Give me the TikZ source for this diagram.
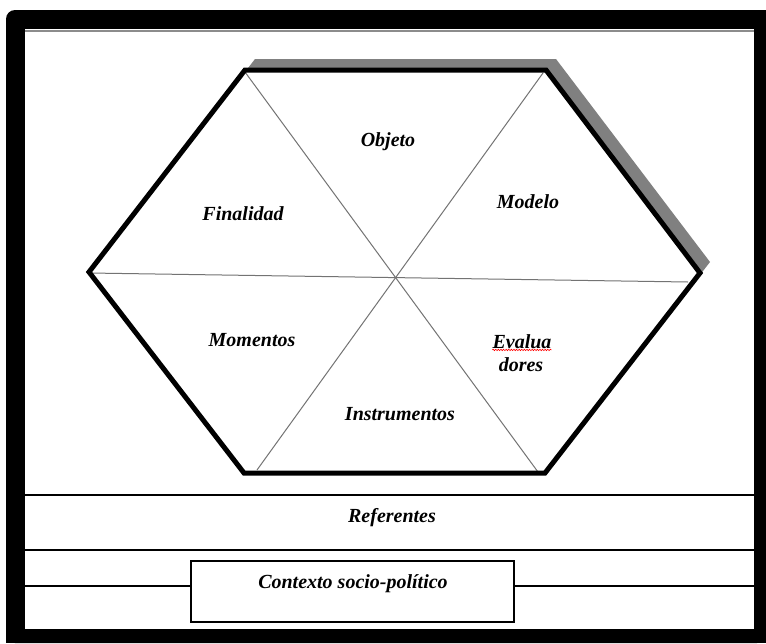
\documentclass[tikz,border=0pt]{standalone}
\usepackage{fontspec}
\setmainfont{Liberation Serif}
\usetikzlibrary{calc,decorations.pathmorphing}
\begin{document}
\begin{tikzpicture}[x=1pt,y=-1pt,
  lbl/.style={font=\fontsize{20}{23}\selectfont\bfseries\itshape, inner sep=0pt, anchor=base},
  hexline/.style={line width=5pt, line join=miter},
  diag/.style={draw=black!55, line width=1pt},
  rulel/.style={line width=2.6pt},
  shadowfill/.style={fill=black!50}]
\useasboundingbox (0,0) rectangle (766,643);
\fill[white] (0,0) rectangle (766,643);
% outer frame
\fill[black, rounded corners=9pt] (6,10) rectangle (766,643);
\fill[black] (700,10) rectangle (766,643);
\fill[black] (6,600) rectangle (100,643);
\fill[white] (25,29) rectangle (754,629);
\draw[black!45, line width=1.4pt] (25,31) -- (754,31);
% hexagon vertices
\coordinate (TL) at (245,70);
\coordinate (TR) at (546,70);
\coordinate (R)  at (700,273);
\coordinate (BR) at (545,473);
\coordinate (BL) at (244,473);
\coordinate (L)  at (89,272);
% shadow
\fill[shadowfill] ($(TL)+(10,-11)$) -- ($(TR)+(10,-11)$) -- ($(R)+(10,-11)$) -- ($(BR)+(10,-11)$) -- ($(BL)+(10,-11)$) -- ($(L)+(10,-11)$) -- cycle;
\fill[white] (TL) -- (TR) -- (R) -- (BR) -- (BL) -- (L) -- cycle;
% dividing lines
\coordinate (d1a) at (245,72);
\coordinate (d1b) at (538,472);
\coordinate (d2a) at (543,73);
\coordinate (d2b) at (257,470);
\coordinate (ha) at (89,273);
\coordinate (hb) at (688,282);
\draw[diag] (d1a) -- (d1b);
\draw[diag] (d2a) -- (d2b);
\draw[diag] (ha) -- (hb);
\draw[hexline] (TL) -- (TR) -- (R) -- (BR) -- (BL) -- (L) -- cycle;
% labels
\node[lbl] (obj) at (388,146) {Objeto};
\node[lbl] (fin) at (243,220) {Finalidad};
\node[lbl] (mod) at (528,208) {Modelo};
\node[lbl] (mom) at (252,346) {Momentos};
\node[lbl] (ev1) at (522,348) {Evalua};
\node[lbl] (ev2) at (521,371) {dores};
\node[lbl] (ins) at (400,420) {Instrumentos};
\draw[red, line width=0.6pt, decorate, decoration={snake, amplitude=0.7pt, segment length=2.6pt}] (ev1.south west) ++(0,1.5) coordinate (wa) -- ($(ev1.south east)+(0,1.5)$);
% bottom rows
\draw[rulel] (25,495) -- (754,495);
\draw[rulel] (25,550) -- (754,550);
\node[lbl] (ref) at (392,522) {Referentes};
\node[draw, line width=2.8pt, minimum width=323pt, minimum height=61pt, inner sep=0pt] (ctx) at (352.5,591.5) {};
\coordinate (cl) at (25,586);
\coordinate (cr) at (754,586);
\draw[rulel] (cl) -- (ctx.west |- cl);
\draw[rulel] (ctx.east |- cr) -- (cr);
\node[lbl] (ctxt) at (353,588) {Contexto socio-político};
\end{tikzpicture}
\end{document}
